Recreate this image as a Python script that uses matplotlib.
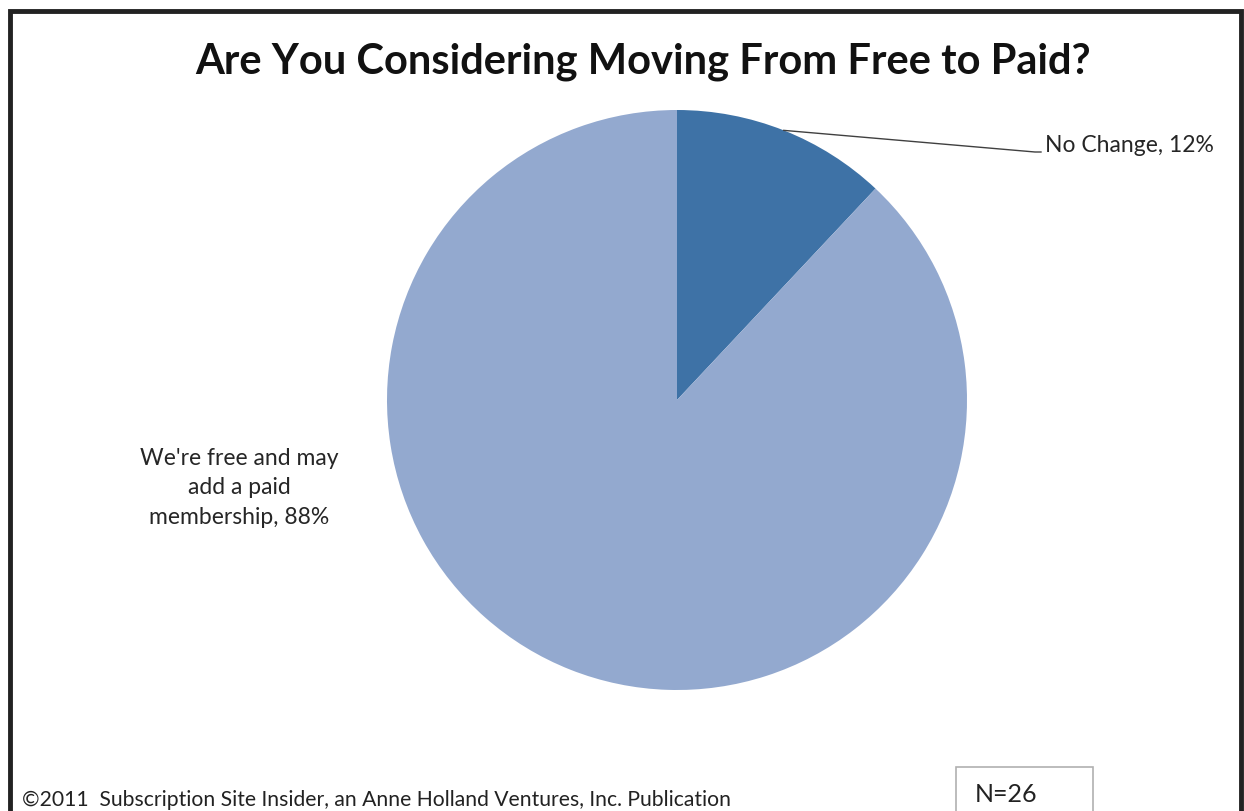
import numpy as np
import matplotlib.pyplot as plt
from matplotlib.patches import Rectangle

# Survey answers
labels = ['No Change', "We're free and may\nadd a paid\nmembership"]
shares = [12, 88]
colors = ['#3e72a6', '#93a9cf']

W, H = 1244, 811
plt.rcParams['font.family'] = ['Lato', 'DejaVu Sans']

fig = plt.figure(figsize=(W / 100, H / 100), dpi=100)
ax = fig.add_axes([0, 0, 1, 1])

cx, cy, r = 677, H - 400, 290
wedges, _ = ax.pie(shares, colors=colors, startangle=90, counterclock=False,
                   center=(cx, cy), radius=r, frame=True,
                   wedgeprops=dict(linewidth=0))
ax.set_xlim(0, W)
ax.set_ylim(0, H)
ax.set_aspect('equal')
ax.axis('off')

# Leader line for the small slice
w = wedges[0]
mid = np.deg2rad((w.theta1 + w.theta2) / 2)
ax0, ay0 = cx + r * np.cos(mid), cy + r * np.sin(mid)
ax.plot([ax0, 1035, 1041], [ay0, H - 152, H - 152], color='#404040', lw=1)
ax.text(1045, H - 146, f'{labels[0]}, {shares[0]}%', fontsize=16.5,
        color='#262626', va='center', ha='left')

ax.text(239, H - 488, f'{labels[1]}, {shares[1]}%', fontsize=16.5,
        color='#262626', va='center', ha='center', linespacing=1.5)

ax.text(643, H - 62, 'Are You Considering Moving From Free to Paid?',
        fontsize=30, fontweight='bold', ha='center', va='center', color='#111111')

ax.text(22, H - 800, '\u00a92011  Subscription Site Insider, an Anne Holland Ventures, Inc. Publication',
        fontsize=15.2, ha='left', va='center', color='#222222')

# N box
ax.add_patch(Rectangle((956, -5), 137, H - 767 + 5, facecolor='white',
                       edgecolor='#b0b0b0', lw=1.2))
ax.text(975, H - 795, 'N=26', fontsize=18, ha='left', va='center', color='#222222')

# Outer frame
ax.add_patch(Rectangle((10, -20), 1231, H - 11 + 20, facecolor='none',
                       edgecolor='#222222', lw=3.5, clip_on=False))

fig.savefig('out.png', dpi=100)
